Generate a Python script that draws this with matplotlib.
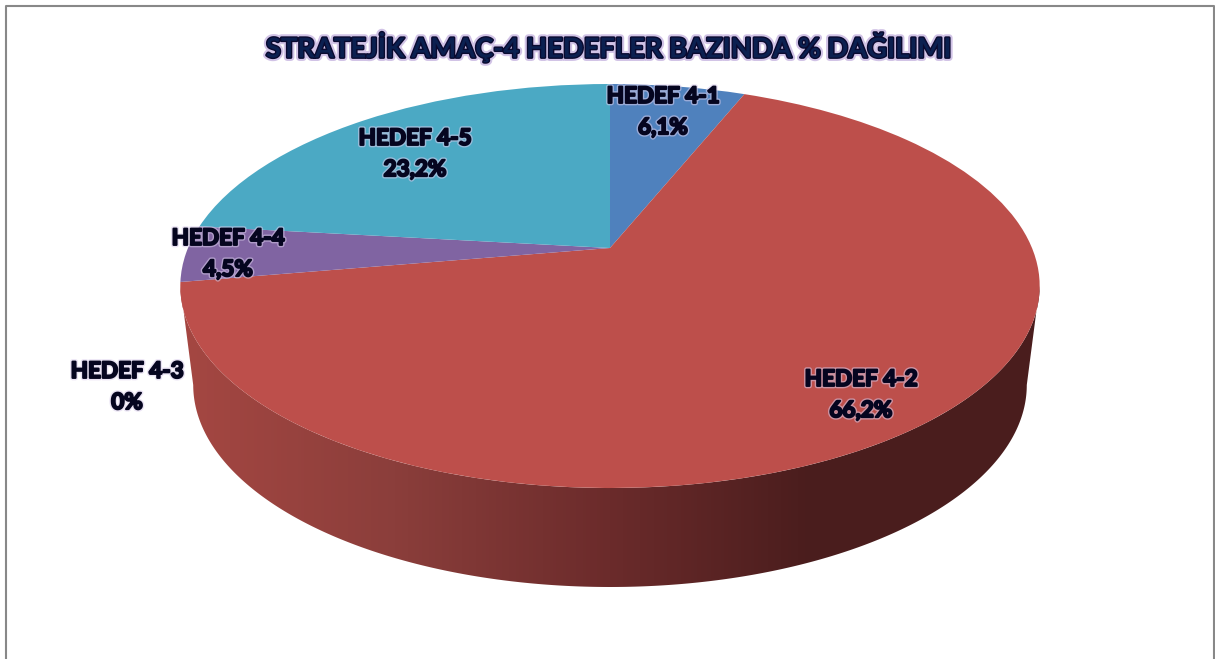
import matplotlib
matplotlib.use('Agg')
from matplotlib import pyplot as plt
from matplotlib import patheffects as pe
from matplotlib.colors import LinearSegmentedColormap
from matplotlib.lines import Line2D
from matplotlib.patches import Polygon
from matplotlib.transforms import Transform
import numpy as np

plt.rcParams['font.family'] = ['Lato', 'DejaVu Sans']

# data
title = "STRATEJİK AMAÇ-4 HEDEFLER BAZINDA % DAĞILIMI"
targets = ["HEDEF 4-1", "HEDEF 4-2", "HEDEF 4-3", "HEDEF 4-4", "HEDEF 4-5"]
shares = [6.1, 66.2, 0, 4.5, 23.2]
share_labels = ["6,1%", "66,2%", "0%", "4,5%", "23,2%"]
colors = ["#4F81BD", "#BD4F4B", "#9BBB59", "#8064A2", "#4BA9C4"]

# label places in pixels
label_x = [663, 861, 127, 228, 415]
label_y = [112, 395, 387, 254, 154]

# pie geometry in pixels, the apex is not in the middle of the ellipse because of perspective
apex_x = 610
apex_y = 248
persp = 76 / 404
scale_x = 422
scale_y = 194.85
depth = 99
bottom_shrink = 0.97


class Tilt(Transform):
    input_dims = 2
    output_dims = 2

    def transform_non_affine(self, values):
        values = np.asarray(values)
        d = 1 + persp * values[:, 1]
        return np.column_stack([apex_x + scale_x * values[:, 0] / d,
                                apex_y - scale_y * values[:, 1] / d])


fig = plt.figure(figsize=(12.15, 6.59), dpi=100)
ax = fig.add_axes([0, 0, 1, 1])

wedges, _ = ax.pie(shares, colors=colors, startangle=90, counterclock=False,
                   wedgeprops={'linewidth': 0, 'zorder': 3})
tilt = Tilt()
for w in wedges:
    w.set_transform(tilt + ax.transData)

# side wall, front half of the rim and the same rim moved down
t = np.linspace(-np.arcsin(persp), -np.pi + np.arcsin(persp), 300)
rim = tilt.transform(np.column_stack([np.cos(t), np.sin(t)]))
low = np.column_stack([apex_x + bottom_shrink * (rim[:, 0] - apex_x), rim[:, 1] + depth])
side = np.vstack([rim, low[::-1]])

side_cmap = LinearSegmentedColormap.from_list("side", [
    (0.0, "#A54742"), (0.25, "#8B3E3B"), (0.5, "#6B2B2B"), (0.735, "#4A1D1D"), (1.0, "#4A1E1E")])
im = ax.imshow(np.linspace(0, 1, 256)[None, :], cmap=side_cmap, aspect='auto', zorder=2,
               extent=(side[:, 0].min(), side[:, 0].max(), side[:, 1].max(), side[:, 1].min()))
im.set_clip_path(Polygon(side, closed=True, transform=ax.transData))

ax.set_aspect('auto')
ax.set_xlim(0, 1215)
ax.set_ylim(659, 0)
ax.axis('off')

# texts
glow = [pe.withStroke(linewidth=3.5, foreground="#D9CCEB", alpha=0.55),
        pe.withStroke(linewidth=1.5, foreground="#05051F")]
for name, share, x, y in zip(targets, share_labels, label_x, label_y):
    ax.text(x, y, name + "\n" + share, ha='center', va='center', fontsize=16.2, fontweight='bold',
            color="#050520", linespacing=1.6, path_effects=glow, zorder=5)

ax.text(609, 47, title, ha='center', va='center', fontsize=19.7, fontweight='bold',
        color="#0B2050", zorder=5,
        path_effects=[pe.withStroke(linewidth=5, foreground="#B9A3D9", alpha=0.65),
                      pe.withStroke(linewidth=2, foreground="#0A0A30")])

# chart frame, its bottom edge is cut off by the picture
frame_x = [5.5, 5.5, 1213.5, 1213.5]
frame_y = [659, 5.5, 5.5, 659]
fig.add_artist(Line2D(np.array(frame_x) / 1215, 1 - np.array(frame_y) / 659,
                      color="#888888", linewidth=1.5))

fig.savefig("out.png", dpi=100)
plt.close()
